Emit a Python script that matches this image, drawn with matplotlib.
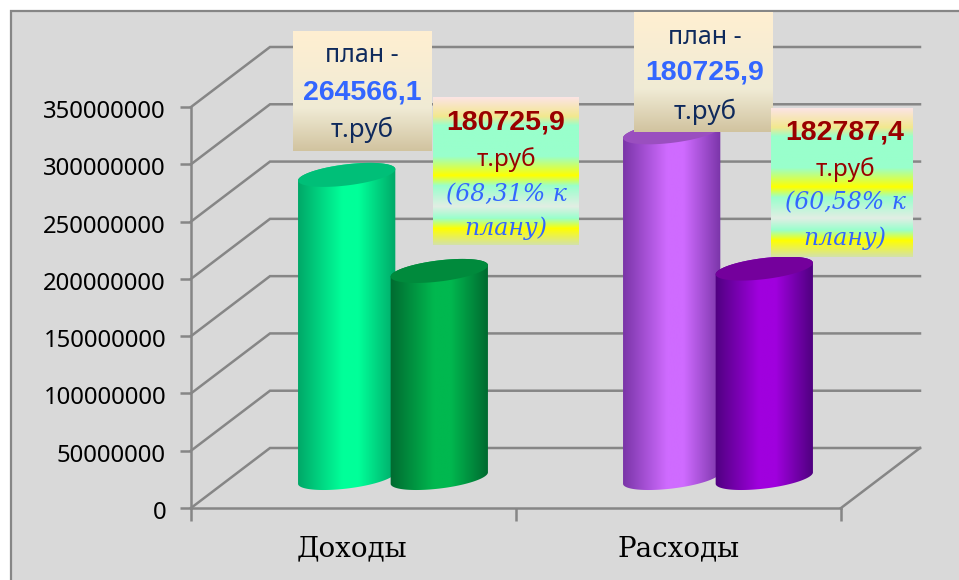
import numpy as np
import matplotlib
matplotlib.use("Agg")
import matplotlib.pyplot as plt
from matplotlib.colors import LinearSegmentedColormap
from matplotlib.patches import Polygon, Rectangle
from matplotlib.transforms import ScaledTranslation

#Chart values
categories = ["Доходы", "Расходы"]
plan_values = [264566100, 301733000]
fact_values = [180725900, 182787400]
y_ticks = [0, 50000000, 100000000, 150000000, 200000000, 250000000, 300000000, 350000000]

#Colours: edge, centre, top of each cylinder
plan_colors = [("#00A868", "#00FF99", "#00BF78"), ("#7A35A8", "#CF6BFF", "#9A4FBF")]
fact_colors = [("#006A30", "#00B84F", "#008A3C"), ("#4F0080", "#A000DE", "#74009C")]

grid_color = "#868686"
bg_color = "#D9D9D9"

W, H = 959, 580
fig = plt.figure(figsize=(W / 100, H / 100), dpi=100, facecolor="white")

#Grey panel behind the chart, in pixels
back = fig.add_axes([0, 0, 1, 1], zorder=0)
back.set_xlim(0, W)
back.set_ylim(H, 0)
back.axis("off")
back.add_patch(Rectangle((10.5, 11), W, H, fc=bg_color, ec=grid_color, lw=1.6))

#Main axes is the front plane of the 3D box
X0, X1, Y0, Y1 = 191, 841, 508, 107
ax = fig.add_axes([X0 / W, 1 - Y0 / H, (X1 - X0) / W, (Y0 - Y1) / H], zorder=1)
ax.patch.set_alpha(0)
px_x = (X1 - X0) / 2                 #pixels per category
px_y = (Y0 - Y1) / 350000000         #pixels per rouble
depth_x = 79 / px_x
depth_y = 60 / px_y

#Walls and floor
for v in y_ticks:
    ax.plot([0, depth_x, 2 + depth_x], [v, v + depth_y, v + depth_y],
            color=grid_color, lw=1.8, clip_on=False, zorder=1, solid_joinstyle="miter")
ax.plot([2, 2 + depth_x], [0, depth_y], color=grid_color, lw=1.8, clip_on=False, zorder=1)


def cylinder(xc, val, cols, z):
    edge, mid, top = cols
    a = 49 / px_x
    b = 10.5
    tilt = np.radians(7)
    base = 30 / px_y                 #bars stand in the middle of the floor
    t = np.linspace(0, 2 * np.pi, 181)
    ex = 49 * np.cos(t) * np.cos(tilt) - b * np.sin(t) * np.sin(tilt)
    ey = 49 * np.cos(t) * np.sin(tilt) + b * np.sin(t) * np.cos(tilt)
    ex, ey = ex / px_x, ey / px_y

    #Body: lower half of the bottom ellipse, upper half of the top ellipse
    body = list(zip(xc + ex[t >= np.pi], base + ey[t >= np.pi])) + \
        list(zip(xc + ex[t <= np.pi], base + val + ey[t <= np.pi]))
    patch = Polygon(body, closed=True, transform=ax.transData, fc="none", ec="none")
    ax.add_patch(patch)
    cmap = LinearSegmentedColormap.from_list("c", [(0, edge), (0.45, mid), (0.62, mid), (1, edge)], N=256)
    grad = np.linspace(0, 1, 256).reshape(1, -1)
    im = ax.imshow(grad, cmap=cmap, aspect="auto", zorder=z, interpolation="bilinear",
                   extent=[xc - a, xc + a, base - 20 / px_y, base + val + 20 / px_y])
    im.set_clip_path(patch)

    ax.add_patch(Polygon(list(zip(xc + ex, base + val + ey)), closed=True,
                         fc=top, ec="none", zorder=z + 0.1))


#Bars: plan and fact of each category
centers = [0.5, 1.5]
for i in range(len(categories)):
    cylinder(centers[i] - 0.021, plan_values[i], plan_colors[i], 3 + i)
    cylinder(centers[i] + 0.264, fact_values[i], fact_colors[i], 3.5 + i)

#Axes, ticks, labels
ax.set_xlim(0, 2)
ax.set_ylim(0, 350000000)
for s in ["top", "right"]:
    ax.spines[s].set_visible(False)
for s in ["left", "bottom"]:
    ax.spines[s].set_color(grid_color)
    ax.spines[s].set_linewidth(1.8)
ax.set_yticks(y_ticks)
ax.set_yticklabels([str(v) for v in y_ticks], family="Noto Sans", fontsize=17.2)
ax.set_xticks([0, 1, 2])
ax.set_xticklabels([])
ax.tick_params(axis="y", length=8, width=1.8, color=grid_color, pad=10)
ax.tick_params(axis="x", length=9, width=1.8, color=grid_color)
shift = ScaledTranslation(0, -2 / 100, fig.dpi_scale_trans)
for lbl in ax.get_yticklabels():
    lbl.set_transform(lbl.get_transform() + shift)
for name, tx in zip(categories, [352, 679]):
    ax.text((tx - X0) / px_x, -41 / px_y, name, ha="center", va="center",
            family="DejaVu Serif", fontsize=20, color="black", clip_on=False)

#Label boxes on top, in pixels
top = fig.add_axes([0, 0, 1, 1], zorder=2)
top.patch.set_alpha(0)
top.axis("off")

tan_map = LinearSegmentedColormap.from_list(
    "tan", [(0, "#FFEFD1"), (0.64, "#F0EBD5"), (1, "#D1C39F")])
stripe_map = LinearSegmentedColormap.from_list(
    "stripe", [(0, "#FCE4E4"), (0.13, "#F2E88E"), (0.19, "#99FFCC"), (0.40, "#99FFCC"),
               (0.53, "#FFFF00"), (0.60, "#99FFCC"), (0.74, "#E2EEE4"), (0.82, "#99FFCC"),
               (0.89, "#FFFF00"), (1, "#D4E2A8")])
ramp = np.linspace(0, 1, 256).reshape(-1, 1)


def box(x0, x1, y0, y1, cmap):
    top.imshow(ramp, cmap=cmap, aspect="auto", extent=[x0, x1, y1, y0], zorder=1)


navy = "#0F2A5C"
blue = "#3366FF"
red = "#990000"
sans = "Noto Sans"
bold = "Liberation Sans"
serif = "DejaVu Serif"

box(293, 432, 31, 151, tan_map)
box(634, 773, 12, 132, tan_map)
box(433, 579, 97, 245, stripe_map)
box(771, 913, 108, 257, stripe_map)

plan_labels = [(362, [55, 92, 130], "264566,1"), (705, [37, 73, 112], "180725,9")]
for cx, ys, val in plan_labels:
    top.text(cx, ys[0], "план -", ha="center", va="center", family=sans, fontsize=18, color=navy, zorder=2)
    top.text(cx, ys[1], val, ha="center", va="center", family=bold, fontsize=20.5, weight="bold", color=blue, zorder=2)
    top.text(cx, ys[2], "т.руб", ha="center", va="center", family=sans, fontsize=18.5, color=navy, zorder=2)

fact_labels = [(506, [122, 160, 195, 228], "180725,9", "(68,31% к", "плану)"),
               (845, [133, 170, 203, 238], "182787,4", "(60,58% к", "плану)")]
for cx, ys, val, l1, l2 in fact_labels:
    top.text(cx, ys[0], val, ha="center", va="center", family=bold, fontsize=20.5, weight="bold", color=red, zorder=2)
    top.text(cx, ys[1], "т.руб", ha="center", va="center", family=sans, fontsize=17.5, color=red, zorder=2)
    top.text(cx, ys[2], l1, ha="center", va="center", family=serif, style="italic", fontsize=17, color=blue, zorder=2)
    top.text(cx, ys[3], l2, ha="center", va="center", family=serif, style="italic", fontsize=17, color=blue, zorder=2)

top.set_xlim(0, W)
top.set_ylim(H, 0)

plt.savefig("out.png", dpi=100)
